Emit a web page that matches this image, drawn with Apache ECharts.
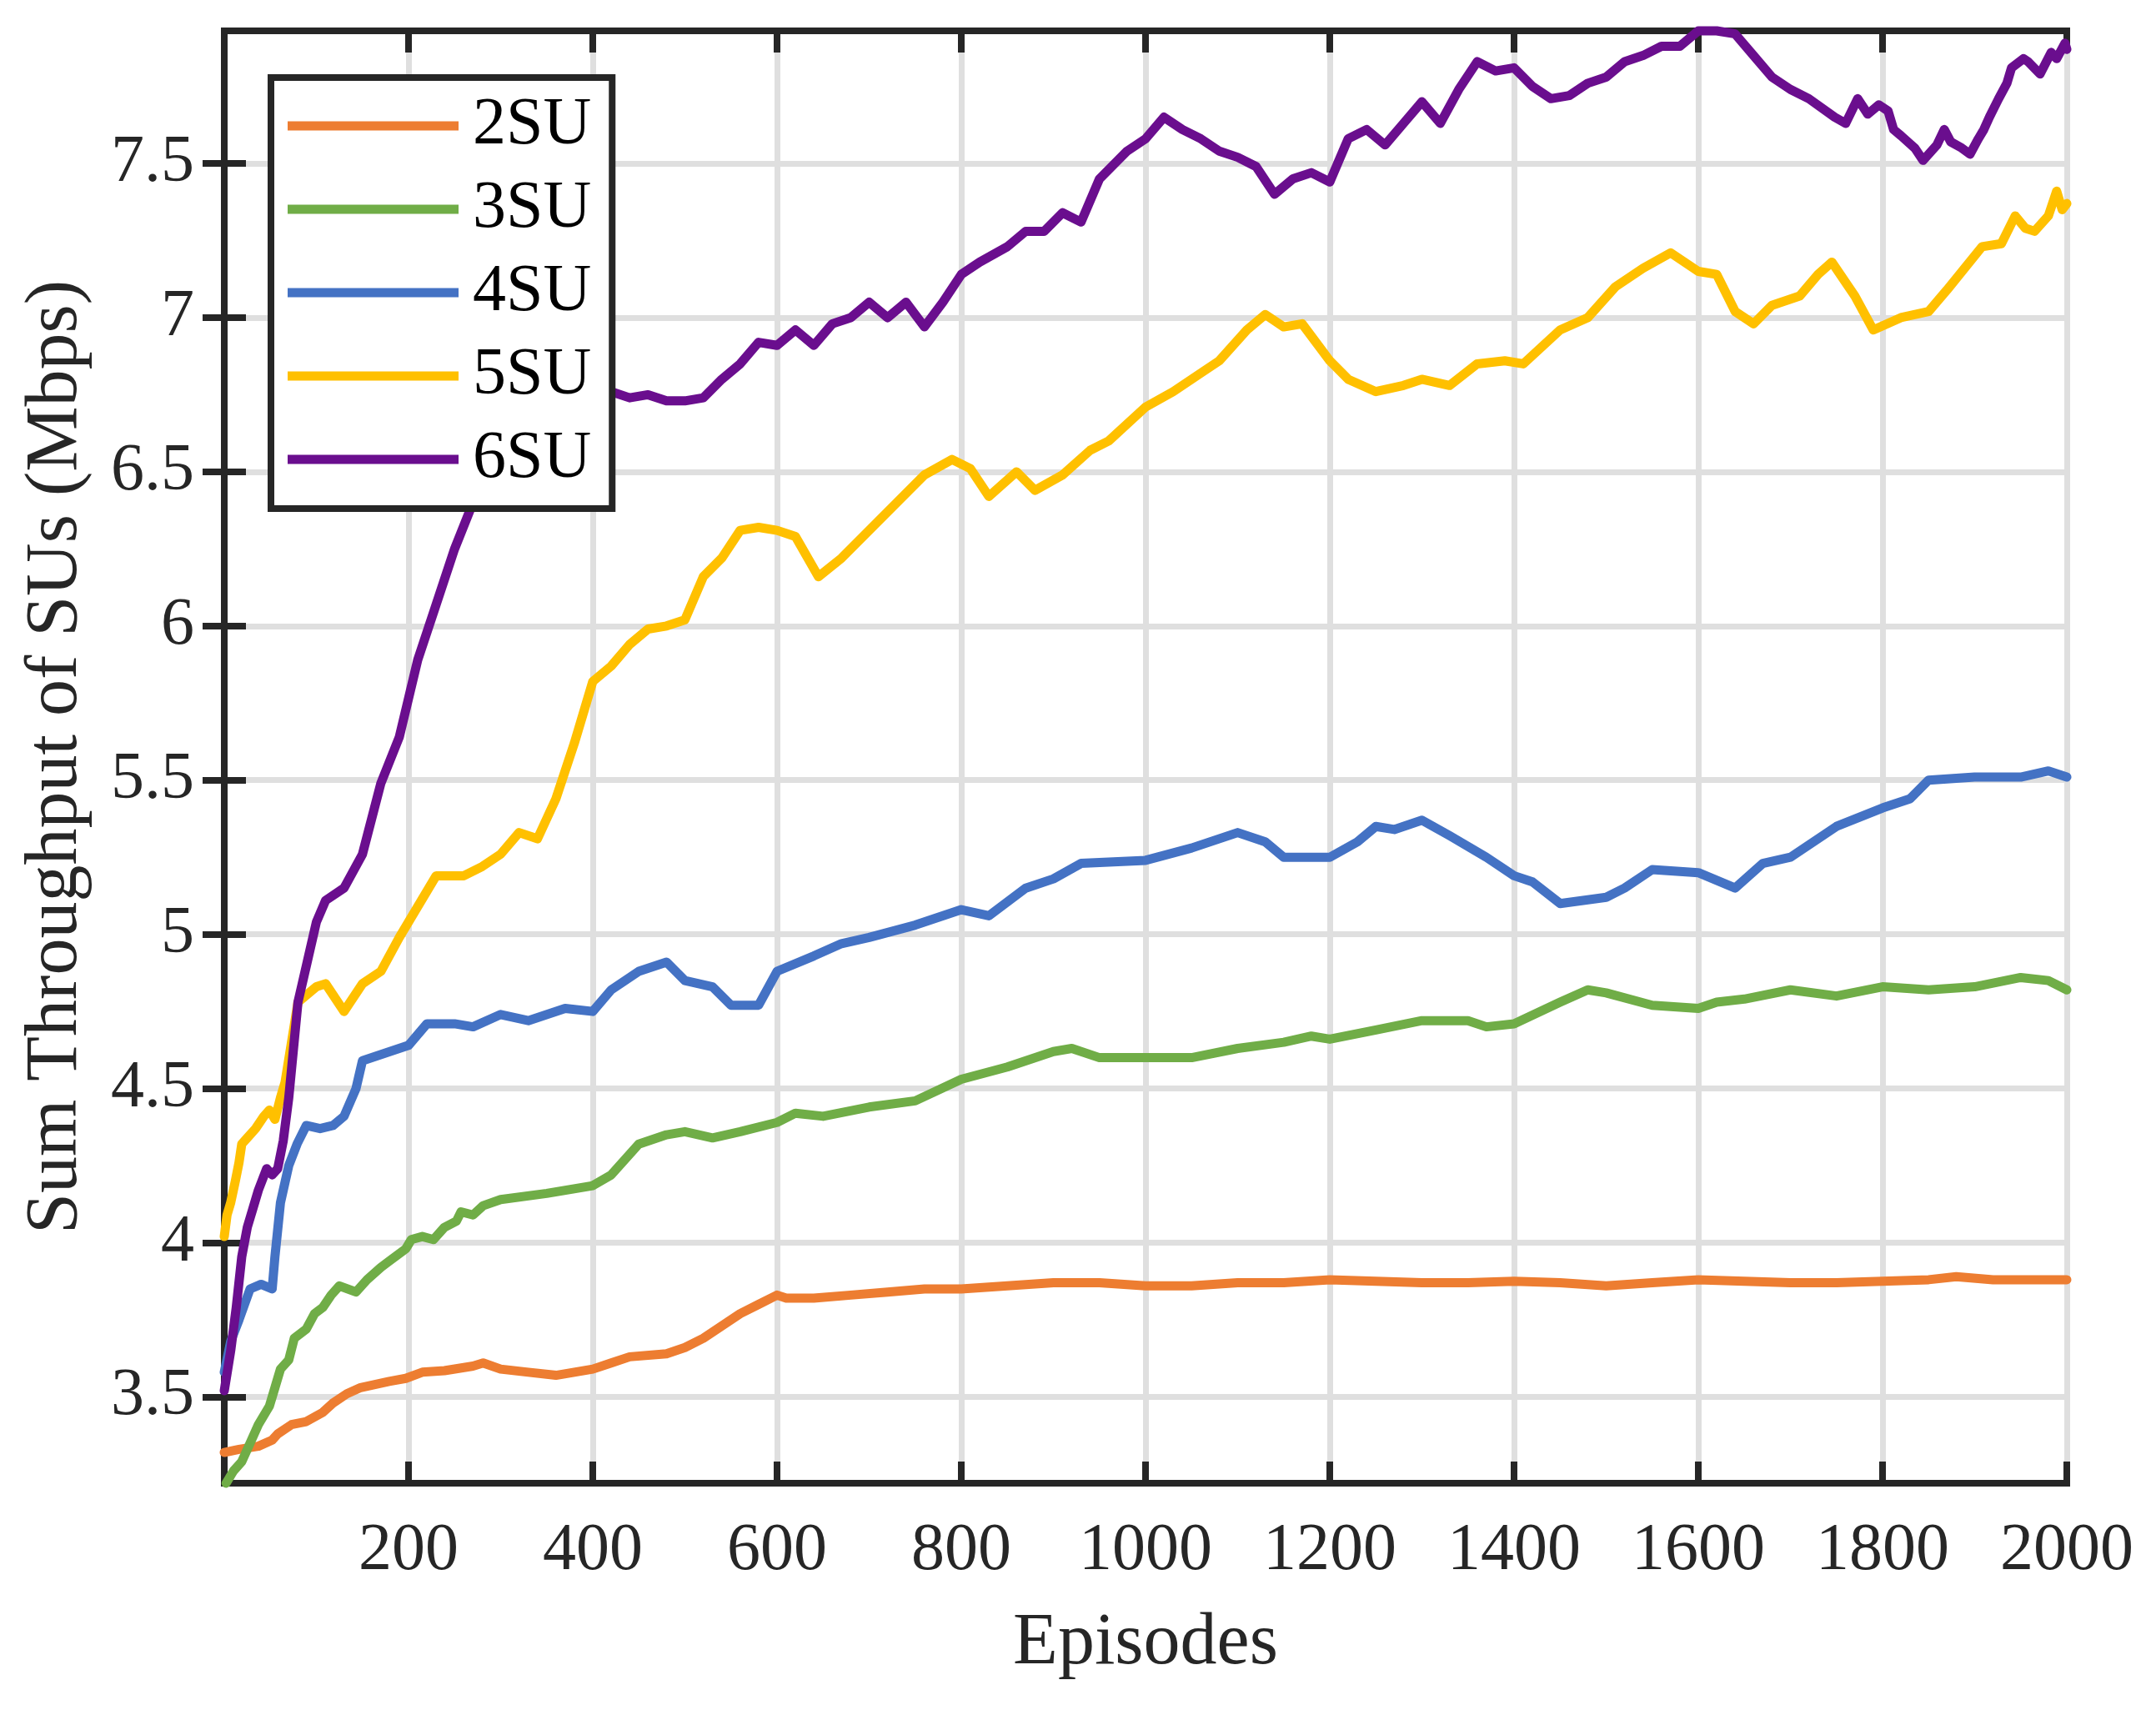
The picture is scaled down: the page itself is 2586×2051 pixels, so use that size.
<!DOCTYPE html>
<html>
<head>
<meta charset="utf-8">
<script src="https://cdn.jsdelivr.net/npm/echarts@6/dist/echarts.min.js"></script>
<style>html,body{margin:0;padding:0;background:#fff}#main{width:2586px;height:2051px}</style>
</head>
<body>
<div id="main"></div>
<script>
// ---- data ----
const seriesNames = ['2SU', '3SU', '4SU', '5SU', '6SU'];
const yTicks = [3.5, 4, 4.5, 5, 5.5, 6, 6.5, 7, 7.5];

const ep2 = [0,16,37,52,58,73,89,107,118,133,148,179,197,215,239,270,281,300,330,360,380,400,420,440,480,500,520,540,560,580,600,610,640,680,720,760,800,850,900,950,1000,1050,1100,1150,1200,1250,1300,1350,1400,1450,1500,1550,1600,1650,1700,1750,1800,1850,1880,1920,1960,2000];
const su2 = [3.32,3.33,3.34,3.36,3.38,3.41,3.42,3.45,3.48,3.51,3.53,3.55,3.56,3.58,3.585,3.60,3.61,3.59,3.58,3.57,3.58,3.59,3.61,3.63,3.64,3.66,3.69,3.73,3.77,3.80,3.83,3.82,3.82,3.83,3.84,3.85,3.85,3.86,3.87,3.87,3.86,3.86,3.87,3.87,3.88,3.875,3.87,3.87,3.875,3.87,3.86,3.87,3.88,3.875,3.87,3.87,3.875,3.88,3.89,3.88,3.88,3.88];

const ep3 = [2,10,19,28,37,49,55,61,70,76,89,98,107,116,125,143,155,170,179,197,203,215,227,239,252,257,270,281,300,350,400,420,450,480,500,530,560,600,620,650,700,750,800,850,900,920,950,1000,1050,1100,1150,1180,1200,1250,1300,1350,1370,1400,1450,1480,1500,1550,1600,1620,1650,1700,1750,1800,1850,1900,1950,1980,2000];
const su3 = [3.22,3.26,3.29,3.35,3.41,3.47,3.53,3.59,3.62,3.69,3.72,3.77,3.79,3.83,3.86,3.84,3.88,3.92,3.94,3.98,4.01,4.02,4.01,4.05,4.07,4.10,4.09,4.12,4.14,4.16,4.185,4.22,4.32,4.35,4.36,4.34,4.36,4.39,4.42,4.41,4.44,4.46,4.53,4.57,4.62,4.63,4.60,4.60,4.60,4.63,4.65,4.67,4.66,4.69,4.72,4.72,4.70,4.71,4.78,4.82,4.81,4.77,4.76,4.78,4.79,4.82,4.80,4.83,4.82,4.83,4.86,4.85,4.82];

const ep4 = [0,7,16,22,28,40,52,55,61,70,79,89,104,118,130,143,150,200,220,250,270,300,330,370,400,420,450,480,500,530,550,580,600,640,670,700,750,800,830,870,900,930,1000,1050,1100,1130,1150,1200,1230,1250,1270,1300,1330,1370,1400,1420,1450,1500,1520,1550,1600,1640,1670,1700,1750,1800,1830,1850,1900,1950,1980,2000];
const su4 = [3.58,3.68,3.75,3.80,3.85,3.865,3.85,3.955,4.13,4.25,4.32,4.38,4.37,4.38,4.41,4.50,4.59,4.64,4.71,4.71,4.70,4.74,4.72,4.76,4.75,4.82,4.88,4.91,4.85,4.83,4.77,4.77,4.88,4.93,4.97,4.99,5.03,5.08,5.06,5.15,5.18,5.23,5.24,5.28,5.33,5.30,5.25,5.25,5.30,5.35,5.34,5.37,5.32,5.25,5.19,5.17,5.10,5.12,5.15,5.21,5.20,5.15,5.23,5.25,5.35,5.41,5.44,5.50,5.51,5.51,5.53,5.51];

const ep5 = [0,3,7,12,16,19,25,34,43,49,55,61,66,80,100,110,130,150,170,190,210,230,260,280,300,320,340,360,380,400,420,440,460,480,500,520,540,560,580,600,620,645,670,700,730,760,790,810,830,860,880,910,940,960,1000,1030,1060,1080,1110,1130,1150,1170,1200,1220,1250,1280,1300,1330,1360,1390,1410,1450,1480,1510,1540,1570,1600,1620,1640,1660,1680,1710,1730,1745,1770,1790,1820,1850,1870,1908,1929,1944,1955,1965,1980,1989,1995,2000];
const su5 = [4.02,4.09,4.13,4.20,4.26,4.32,4.34,4.37,4.41,4.43,4.40,4.47,4.52,4.78,4.83,4.84,4.75,4.84,4.88,4.99,5.09,5.19,5.19,5.22,5.26,5.33,5.31,5.44,5.62,5.82,5.87,5.94,5.99,6.00,6.02,6.16,6.22,6.31,6.32,6.31,6.29,6.16,6.22,6.31,6.40,6.49,6.54,6.51,6.42,6.50,6.44,6.49,6.57,6.60,6.71,6.76,6.82,6.86,6.96,7.01,6.97,6.98,6.86,6.80,6.76,6.78,6.80,6.78,6.85,6.86,6.85,6.96,7.00,7.10,7.16,7.21,7.15,7.14,7.02,6.98,7.04,7.07,7.14,7.18,7.07,6.96,7.00,7.02,7.09,7.23,7.24,7.33,7.29,7.28,7.33,7.41,7.35,7.37];

const ep6 = [0,7,13,19,25,31,37,46,52,58,64,70,80,90,100,110,130,150,170,190,210,230,250,270,290,310,340,370,400,420,440,460,480,500,520,540,560,580,600,620,640,660,680,700,720,740,760,780,800,820,850,870,890,910,930,950,980,1000,1020,1040,1060,1080,1100,1120,1140,1160,1180,1200,1220,1240,1260,1280,1300,1320,1340,1360,1380,1400,1420,1440,1460,1480,1500,1520,1540,1560,1580,1600,1620,1640,1660,1680,1700,1720,1748,1760,1773,1784,1796,1806,1812,1820,1835,1844,1859,1867,1874,1886,1895,1904,1910,1916,1926,1935,1940,1953,1958,1971,1983,1989,1998,2000];
const su6 = [3.52,3.65,3.79,3.955,4.05,4.11,4.17,4.24,4.22,4.24,4.33,4.47,4.78,4.91,5.04,5.11,5.15,5.26,5.49,5.64,5.89,6.07,6.25,6.40,6.53,6.61,6.68,6.73,6.75,6.76,6.74,6.75,6.73,6.73,6.74,6.80,6.85,6.92,6.91,6.96,6.91,6.98,7.00,7.05,7.00,7.05,6.97,7.05,7.14,7.18,7.23,7.28,7.28,7.34,7.31,7.45,7.54,7.58,7.65,7.61,7.58,7.54,7.52,7.49,7.40,7.45,7.47,7.44,7.58,7.61,7.56,7.63,7.70,7.63,7.74,7.83,7.80,7.81,7.75,7.71,7.72,7.76,7.78,7.83,7.85,7.88,7.88,7.93,7.93,7.92,7.85,7.78,7.74,7.71,7.65,7.63,7.71,7.66,7.69,7.67,7.61,7.59,7.55,7.51,7.56,7.61,7.57,7.55,7.53,7.58,7.61,7.65,7.71,7.76,7.81,7.84,7.83,7.79,7.86,7.84,7.89,7.87];

const epArrays = [ep2, ep3, ep4, ep5, ep6];
const valArrays = [su2, su3, su4, su5, su6];
const colors = ['#ED7D31', '#70AD47', '#4472C4', '#FFC000', '#6A0E8E'];

// ---- chart ----
const FONT = 'Liberation Serif, Times New Roman, Times, serif';
const INK = '#262626';
const chart = echarts.init(document.getElementById('main'), null, {renderer: 'canvas'});

function pairs(xs, ys) { return xs.map((x, i) => [x, ys[i]]); }

const series = seriesNames.map((name, k) => ({
  name: name,
  type: 'line',
  data: pairs(epArrays[k], valArrays[k]),
  xAxisIndex: 0, yAxisIndex: 0,
  symbol: 'none', showSymbol: false,
  clip: false,
  smooth: false,
  color: colors[k],
  itemStyle: {color: colors[k]},
  lineStyle: {width: 11, color: colors[k], cap: 'round', join: 'round'},
  emphasis: {disabled: true},
  z: 2 + k
}));

const axisLineStyle = {show: true, lineStyle: {color: INK, width: 8, cap: 'square'}};
const tickStyle = {show: true, inside: true, length: 26, lineStyle: {color: INK, width: 8}};

chart.setOption({
  animation: false,
  backgroundColor: '#fff',
  grid: {left: 269, right: 107, top: 37, bottom: 272, containLabel: false},
  legend: {
    orient: 'vertical', left: 325, top: 93,
    padding: [18, 25, 19, 20],
    icon: 'rect',
    itemWidth: 205, itemHeight: 11, itemGap: 20,
    backgroundColor: '#ffffff', borderColor: INK, borderWidth: 8, borderRadius: 0,
    textStyle: {fontFamily: FONT, fontSize: 80, color: '#000', lineHeight: 80, padding: [0, 0, 0, 12]},
    data: seriesNames,
    z: 20
  },
  xAxis: [
    {
      type: 'value', min: 0, max: 2000, interval: 200, position: 'bottom',
      name: 'Episodes', nameLocation: 'middle', nameGap: 149,
      nameTextStyle: {fontFamily: FONT, fontSize: 88, color: INK},
      axisLine: axisLineStyle, axisTick: tickStyle,
      axisLabel: {fontFamily: FONT, fontSize: 80, color: INK, margin: 42,
        formatter: v => (v === 0 ? '' : String(v))},
      splitLine: {show: true, lineStyle: {color: '#DFDFDF', width: 7}}
    },
    {
      type: 'value', min: 0, max: 2000, interval: 200, position: 'top',
      axisLine: axisLineStyle, axisTick: tickStyle,
      axisLabel: {show: false}, splitLine: {show: false}
    }
  ],
  yAxis: [
    {
      type: 'value', min: 3.22, max: 7.93, position: 'left',
      name: 'Sum Throughput of SUs (Mbps)', nameLocation: 'middle', nameGap: 157,
      nameTextStyle: {fontFamily: FONT, fontSize: 88, color: INK},
      axisLine: axisLineStyle,
      axisTick: Object.assign({}, tickStyle, {customValues: yTicks}),
      axisLabel: {fontFamily: FONT, fontSize: 80, color: INK, margin: 36, customValues: yTicks,
        formatter: v => String(v)},
      splitLine: {show: true, lineStyle: {color: '#DFDFDF', width: 7}}
    },
    {
      type: 'value', min: 3.22, max: 7.93, position: 'right',
      axisLine: axisLineStyle,
      axisTick: Object.assign({}, tickStyle, {customValues: yTicks}),
      axisLabel: {show: false, customValues: yTicks}, splitLine: {show: false}
    }
  ],
  series: series
});
</script>
</body>
</html>
